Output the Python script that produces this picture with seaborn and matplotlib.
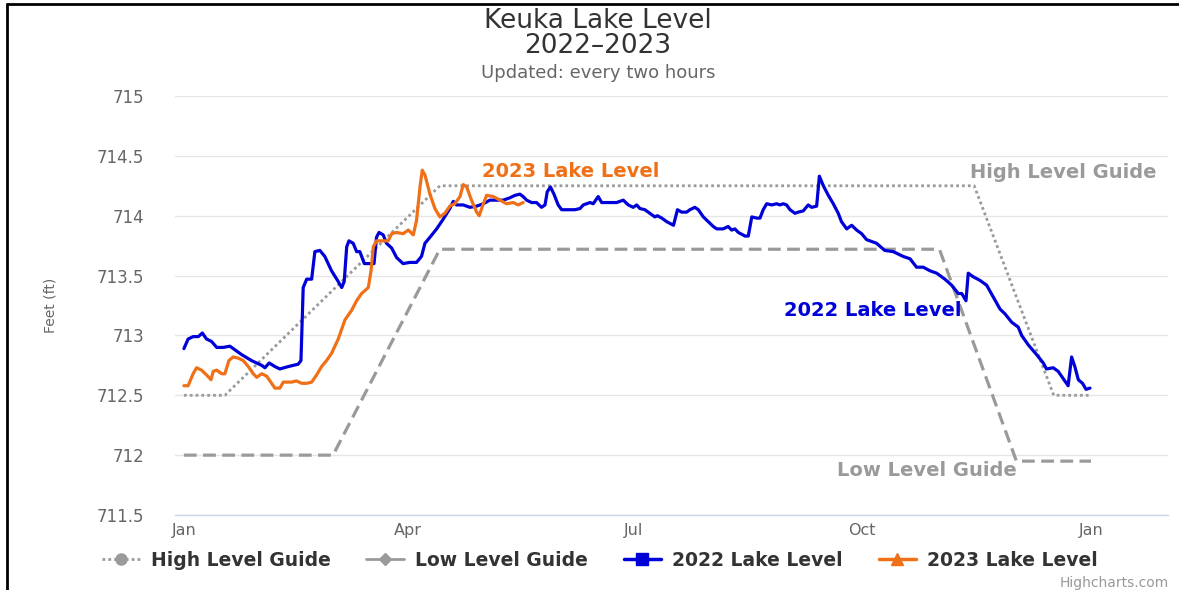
import matplotlib.pyplot as plt
import seaborn as sns
from matplotlib.lines import Line2D


# ==================== Data ====================
# x = day of the year (0 = Jan 1), y = lake level in feet

high_guide_day = [0, 16.5, 103, 318, 350, 365]
high_guide_ft = [712.5, 712.5, 714.25, 714.25, 712.5, 712.5]

low_guide_day = [0, 60, 103, 304, 335, 365]
low_guide_ft = [712.0, 712.0, 713.72, 713.72, 711.95, 711.95]

level_2022_day = [
    0, 1.7, 3.7, 5.8, 7.4, 9.1, 11.1, 13.2, 15.8, 18.5, 20.5, 23.2, 27.2, 31.3,
    32.6, 34.3, 36.6, 38.6, 42, 46, 47.1, 48, 49.4, 51.4, 52.7, 54.7, 56.7,
    59.4, 62.1, 63.5, 64.5, 65.5, 66.4, 68.1, 69.5, 70.8, 72.6, 74.2, 76.5,
    77.5, 78.5, 80.2, 81.5, 83.6, 85.6, 88.2, 90.9, 93.6, 95.6, 97, 99, 101.7,
    104.3, 107, 108.4, 109.7, 112.4, 115.1, 117.8, 120.5, 123.1, 125.8, 128.5,
    131.2, 133.2, 135.2, 136.5, 137.9, 139.9, 141.9, 143.9, 145.3, 146.2,
    147.5, 148.9, 150.6, 152, 155.3, 157.3, 159.4, 160.7, 163.4, 164.7, 166.7,
    168.1, 171.4, 174.1, 176.8, 178.8, 180.8, 182.2, 183.5, 185.5, 187.5,
    189.5, 190.5, 192.3, 194.3, 197, 198.6, 200.3, 202.3, 203.6, 205.6, 207,
    209, 211, 213, 214.4, 217, 219, 220.4, 221.7, 223.1, 225.8, 227.1, 228.5,
    230.5, 231.8, 233.1, 234.5, 236.5, 238.5, 239.8, 241.2, 242.5, 243.9,
    245.9, 247.2, 249.2, 251.2, 252.6, 254.6, 255.7, 257.3, 259.3, 261.3,
    263.3, 264.6, 266.7, 268.7, 270.7, 272.7, 274.7, 278.7, 282, 285.4, 289.4,
    292.2, 294.8, 297.5, 300.2, 302.9, 306.2, 308.9, 311.6, 313, 314.7, 315.6,
    317.6, 320.3, 323, 325.7, 328.4, 330.4, 333.1, 335.7, 337.1, 339.8, 343.1,
    345.8, 347.1, 349.8, 351.8, 353.8, 355.8, 357.2, 358.5, 359.9, 361.6, 363,
    364.6,
]
level_2022_ft = [
    712.89, 712.97, 712.99, 712.99, 713.02, 712.97, 712.95, 712.90, 712.90,
    712.91, 712.88, 712.84, 712.79, 712.75, 712.73, 712.77, 712.74, 712.72,
    712.74, 712.76, 712.79, 713.40, 713.47, 713.47, 713.70, 713.71, 713.66,
    713.54, 713.45, 713.40, 713.45, 713.74, 713.79, 713.77, 713.70, 713.70,
    713.60, 713.60, 713.60, 713.82, 713.86, 713.84, 713.77, 713.73, 713.65,
    713.60, 713.61, 713.61, 713.66, 713.77, 713.82, 713.89, 713.97, 714.06,
    714.12, 714.09, 714.09, 714.07, 714.08, 714.10, 714.13, 714.13, 714.13,
    714.15, 714.17, 714.18, 714.16, 714.13, 714.11, 714.11, 714.07, 714.09,
    714.20, 714.24, 714.18, 714.09, 714.05, 714.05, 714.05, 714.06, 714.09,
    714.11, 714.10, 714.16, 714.11, 714.11, 714.11, 714.13, 714.09, 714.07,
    714.09, 714.06, 714.05, 714.02, 713.99, 714.00, 713.98, 713.95, 713.92,
    714.05, 714.03, 714.03, 714.05, 714.07, 714.05, 713.99, 713.95, 713.91,
    713.89, 713.89, 713.91, 713.88, 713.89, 713.86, 713.83, 713.83, 713.99,
    713.98, 713.98, 714.05, 714.10, 714.09, 714.10, 714.09, 714.10, 714.09,
    714.05, 714.02, 714.03, 714.04, 714.09, 714.07, 714.08, 714.33, 714.25,
    714.17, 714.10, 714.02, 713.95, 713.89, 713.92, 713.88, 713.85, 713.80,
    713.77, 713.71, 713.70, 713.66, 713.64, 713.57, 713.57, 713.54, 713.52,
    713.47, 713.42, 713.35, 713.35, 713.29, 713.52, 713.49, 713.46, 713.42,
    713.32, 713.22, 713.18, 713.11, 713.07, 713.00, 712.92, 712.84, 712.77,
    712.72, 712.73, 712.70, 712.64, 712.58, 712.82, 712.74, 712.63, 712.60,
    712.55, 712.56,
]

level_2023_day = [
    0, 1.7, 3.7, 5.1, 7.1, 9.1, 10.9, 11.8, 13.2, 15.2, 16.5, 18.1, 19.8, 21.9,
    23.9, 25.9, 27.9, 29.3, 31.3, 33.3, 35.3, 36.6, 38.6, 40, 43.3, 45.3, 47.4,
    49.4, 51.4, 53.4, 55.4, 57.4, 59.4, 62.1, 64.8, 67.5, 69.5, 71.5, 74.2,
    75.3, 76.2, 77.5, 79.5, 82.2, 83.6, 85.6, 88.2, 90.3, 92.3, 93.6, 95, 95.9,
    97, 99, 101, 103, 105, 107, 109, 111.1, 112.4, 113.8, 115.7, 117.8, 118.8,
    120.5, 121.8, 124.5, 127.2, 129.8, 132.5, 134.5, 136.5,
]
level_2023_ft = [
    712.58, 712.58, 712.68, 712.73, 712.71, 712.67, 712.63, 712.70, 712.71,
    712.68, 712.68, 712.79, 712.82, 712.81, 712.79, 712.74, 712.68, 712.65,
    712.68, 712.66, 712.60, 712.56, 712.56, 712.61, 712.61, 712.62, 712.60,
    712.60, 712.61, 712.67, 712.74, 712.79, 712.85, 712.97, 713.13, 713.21,
    713.29, 713.35, 713.40, 713.54, 713.74, 713.79, 713.79, 713.79, 713.85,
    713.86, 713.85, 713.88, 713.84, 713.96, 714.24, 714.38, 714.34, 714.18,
    714.06, 713.99, 714.02, 714.08, 714.10, 714.16, 714.26, 714.24, 714.13,
    714.03, 714.00, 714.10, 714.17, 714.16, 714.13, 714.10, 714.11, 714.09,
    714.11,
]

month_ticks = [0, 90, 181, 273, 365]
month_labels = ["Jan", "Apr", "Jul", "Oct", "Jan"]
level_ticks = [711.5, 712, 712.5, 713, 713.5, 714, 714.5, 715]
level_labels = ["711.5", "712", "712.5", "713", "713.5", "714", "714.5", "715"]


# ==================== Plot ====================

BLUE = "#0000d8"
ORANGE = "#f07018"
GUIDE = "#9a9a9a"

sns.set_style("white")
plt.rcParams["font.family"] = ["DejaVu Sans"]

fig = plt.figure(figsize=(11.79, 5.90), dpi=100)
ax = fig.add_axes([0.1484, 0.1271, 0.8423, 0.7102])

sns.lineplot(x=high_guide_day, y=high_guide_ft, ax=ax, color=GUIDE, linewidth=2.0,
             linestyle=(0, (1, 1.1)), estimator=None, sort=False)
sns.lineplot(x=low_guide_day, y=low_guide_ft, ax=ax, color=GUIDE, linewidth=2.3,
             linestyle=(0, (4, 2)), estimator=None, sort=False)
sns.lineplot(x=level_2022_day, y=level_2022_ft, ax=ax, color=BLUE, linewidth=2.3,
             estimator=None, sort=False)
sns.lineplot(x=level_2023_day, y=level_2023_ft, ax=ax, color=ORANGE, linewidth=2.3,
             estimator=None, sort=False)

ax.set_xlim(-3.6, 396)
ax.set_ylim(711.5, 715)

ax.set_yticks(level_ticks)
ax.set_yticklabels(level_labels)
ax.set_xticks(month_ticks)
ax.set_xticklabels(month_labels)
ax.tick_params(axis="y", length=0, pad=22, labelsize=12, labelcolor="#666666")
ax.tick_params(axis="x", length=4.5, width=1, color="#ccd6eb", pad=1.5,
               labelsize=11.5, labelcolor="#666666")
ax.yaxis.grid(True, color="#e6e6e6", linewidth=1)
ax.xaxis.grid(False)
for side in ["top", "right", "left"]:
    ax.spines[side].set_visible(False)
ax.spines["bottom"].set_color("#ccd6eb")
ax.spines["bottom"].set_linewidth(1)
ax.set_ylabel("Feet (ft)", fontsize=10, color="#666666")
ax.yaxis.set_label_coords(-0.118, 0.5)
ax.set_xlabel("")

# ---------- Series labels
label_font = {"fontsize": 14, "fontweight": "bold", "ha": "center", "va": "center"}
ax.text(155.7, 714.37, "2023 Lake Level", color=ORANGE, **label_font)
ax.text(354, 714.36, "High Level Guide", color=GUIDE, **label_font)
ax.text(277, 713.21, "2022 Lake Level", color=BLUE, **label_font)
ax.text(299, 711.87, "Low Level Guide", color=GUIDE, **label_font)

# ---------- Title
fig.text(0.507, 0.943, "Keuka Lake Level\n2022\u20132023", ha="center", va="center",
         fontsize=19, color="#333333", linespacing=0.92)
fig.text(0.507, 0.877, "Updated: every two hours", ha="center", va="center",
         fontsize=13, color="#666666")

# ---------- Legend
handles = [
    Line2D([], [], color=GUIDE, linestyle=(0, (1, 1.1)), linewidth=2,
           marker="o", markersize=8),
    Line2D([], [], color=GUIDE, linestyle="-", linewidth=2,
           marker="D", markersize=6),
    Line2D([], [], color=BLUE, linestyle="-", linewidth=2.5,
           marker="s", markersize=8),
    Line2D([], [], color=ORANGE, linestyle="-", linewidth=2.5,
           marker="^", markersize=9),
]
names = ["High Level Guide", "Low Level Guide", "2022 Lake Level", "2023 Lake Level"]
fig.legend(handles, names, loc="center", bbox_to_anchor=(0.509, 0.050), ncol=4,
           frameon=False, handlelength=2.0, columnspacing=1.9, handletextpad=0.6,
           prop={"weight": "bold", "size": 13.5}, labelcolor="#333333")

fig.text(0.991, 0.012, "Highcharts.com", ha="right", va="center",
         fontsize=10, color="#999999")

# ---------- Frame lines (left and top)
fig.add_artist(Line2D([0.006, 0.006], [0, 0.993], color="black", linewidth=2,
                      transform=fig.transFigure))
fig.add_artist(Line2D([0.006, 1.0], [0.993, 0.993], color="black", linewidth=2,
                      transform=fig.transFigure))

plt.savefig("out.png", dpi=100)
